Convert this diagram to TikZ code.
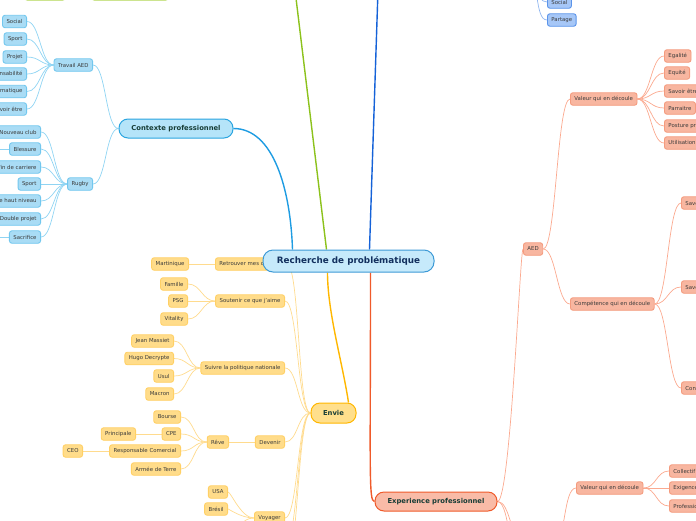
\documentclass[tikz,border=0pt]{standalone}
\usepackage{fontspec}
\setmainfont{DejaVu Sans}
\usetikzlibrary{positioning,backgrounds}
\definecolor{mapRootFill}{HTML}{C6EAFB}
\definecolor{mapRootLine}{HTML}{3D9AD6}
\definecolor{mapRootText}{HTML}{12305E}
\definecolor{mapMainText}{HTML}{173D36}
\definecolor{mapLeafText}{HTML}{3B3B3B}
\definecolor{ctxFill}{HTML}{B5E4F9}
\definecolor{ctxLine}{HTML}{2AA5E0}
\definecolor{ctxLeafFill}{HTML}{A9DCF5}
\definecolor{ctxLeafLine}{HTML}{72C7EE}
\definecolor{ctxLink}{HTML}{8FD4F3}
\definecolor{envFill}{HTML}{FFDF8C}
\definecolor{envLine}{HTML}{FFB700}
\definecolor{envLeafFill}{HTML}{FFDC8A}
\definecolor{envLeafLine}{HTML}{FFD065}
\definecolor{envLink}{HTML}{FFDB8E}
\definecolor{expFill}{HTML}{F9BBA7}
\definecolor{expLine}{HTML}{EF5A2A}
\definecolor{expLeafFill}{HTML}{F8B6A0}
\definecolor{expLeafLine}{HTML}{F49B7E}
\definecolor{expLink}{HTML}{FBA98F}
\definecolor{topFill}{HTML}{A6C7F7}
\definecolor{topLine}{HTML}{5B94EA}
\definecolor{topLink}{HTML}{8FB5F0}
\definecolor{greenFill}{HTML}{D6ED9E}
\definecolor{greenLine}{HTML}{B9DA66}
\definecolor{branchGreen}{HTML}{8CC21C}
\definecolor{branchBlue}{HTML}{1562D8}
\definecolor{branchCtx}{HTML}{1E9CE2}

\begin{document}
\begin{tikzpicture}[x=1pt,y=-1pt,
  leaf/.style={draw, rounded corners=2.5pt, line width=0.9pt, minimum height=12.5pt,
    inner xsep=4pt, inner ysep=0pt, text=mapLeafText, font=\fontsize{5.4}{6}\selectfont},
  ctxleaf/.style={leaf, fill=ctxLeafFill, draw=ctxLeafLine},
  envleaf/.style={leaf, fill=envLeafFill, draw=envLeafLine},
  expleaf/.style={leaf, fill=expLeafFill, draw=expLeafLine},
  topleaf/.style={leaf, fill=topFill, draw=topLine},
  greenleaf/.style={leaf, fill=greenFill, draw=greenLine},
  mainbox/.style={draw, rounded corners=9pt, line width=1pt, inner sep=0pt,
    text=mapMainText, font=\fontsize{6.8}{8}\selectfont\bfseries},
  linkL/.style={to path={.. controls +(-#1,0) and +(#1,0) .. (\tikztotarget)}},
  linkL/.default=13,
  linkR/.style={to path={.. controls +(#1,0) and +(-#1,0) .. (\tikztotarget)}},
  linkR/.default=13,
  ctxlink/.style={draw=ctxLink, line width=0.7pt},
  envlink/.style={draw=envLink, line width=0.7pt},
  explink/.style={draw=expLink, line width=0.7pt},
  toplink/.style={draw=topLink, line width=0.7pt},
  branch/.style={line width=1.4pt}]
  \useasboundingbox (0,0) rectangle (696,520);

  \node[greenleaf, minimum width=40pt] (greenA) at (45,-6) {};
  \node[greenleaf, minimum width=76pt] (greenB) at (130,-6) {};

  \node[mainbox, fill=ctxFill, draw=ctxLine, minimum width=114pt, minimum height=19pt] (contexte) at (176,128.5) {Contexte professionnel};
  \node[ctxleaf, anchor=east] (travail) at (93,65) {Travail AED};
  \node[ctxleaf, anchor=east] (aedSocial) at (27,21.5) {Social};
  \node[ctxleaf, anchor=east] (aedSport) at (27,39) {Sport};
  \node[ctxleaf, anchor=east] (aedProjet) at (27,57) {Projet};
  \node[ctxleaf, anchor=east] (aedResp) at (27,74) {Responsabilité};
  \node[ctxleaf, anchor=east] (aedInfo) at (27,91.5) {Informatique};
  \node[ctxleaf, anchor=east] (aedSavoir) at (27,109) {Savoir être};
  \node[ctxleaf, anchor=east] (rugby) at (93,184) {Rugby};
  \node[ctxleaf, anchor=east] (rugClub) at (41,132) {Nouveau club};
  \node[ctxleaf, anchor=east] (rugBlessure) at (41,149) {Blessure};
  \node[ctxleaf, anchor=east] (rugFin) at (41,167) {Fin de carriere};
  \node[ctxleaf, anchor=east] (rugSport) at (41,184) {Sport};
  \node[ctxleaf, anchor=east] (rugNiveau) at (41,201) {Sport de haut niveau};
  \node[ctxleaf, anchor=east] (rugDouble) at (41,219) {Double projet};
  \node[ctxleaf, anchor=east] (rugSacrifice) at (41,237) {Sacrifice};
  \coordinate (blessureNext) at (-30,149);
  \coordinate (sacrificeNext) at (-30,237);

  \node[mainbox, fill=envFill, draw=envLine, minimum width=45pt, minimum height=20pt] (envie) at (333.5,413) {Envie};
  \node[envleaf, anchor=west] (retrouver) at (215,264) {Retrouver mes origines};
  \node[envleaf, anchor=east] (martinique) at (189,264) {Martinique};
  \node[envleaf, anchor=east] (soutenir) at (285,301) {Soutenir ce que j'aime};
  \node[envleaf, anchor=east] (famille) at (188,284) {Famille};
  \node[envleaf, anchor=east] (psg) at (188,301) {PSG};
  \node[envleaf, anchor=east] (vitality) at (188,319) {Vitality};
  \node[envleaf, anchor=east] (politique) at (285,368) {Suivre la politique nationale};
  \node[envleaf, anchor=east] (massiet) at (174,341) {Jean Massiet};
  \node[envleaf, anchor=east] (hugo) at (174,358.5) {Hugo Decrypte};
  \node[envleaf, anchor=east] (usul) at (174,376) {Usul};
  \node[envleaf, anchor=east] (macron) at (174,394) {Macron};
  \node[envleaf, anchor=east] (devenir) at (285,442) {Devenir};
  \node[envleaf, anchor=east] (reve) at (229,442) {Rêve};
  \node[envleaf, anchor=east] (bourse) at (181,417) {Bourse};
  \node[envleaf, anchor=east] (cpe) at (181,434) {CPE};
  \node[envleaf, anchor=east] (principale) at (136,434) {Principale};
  \node[envleaf, anchor=east] (commercial) at (181,451) {Responsable Comercial};
  \node[envleaf, anchor=east] (ceo) at (83,451) {CEO};
  \node[envleaf, anchor=east] (armee) at (181,469) {Armée de Terre};
  \node[envleaf, anchor=east] (voyager) at (285,518) {Voyager};
  \node[envleaf, anchor=east] (usa) at (228,492) {USA};
  \node[envleaf, anchor=east] (bresil) at (228,509) {Brésil};
  \coordinate (voyagerNext) at (228,530);
  \coordinate (envieNextA) at (285,545);
  \coordinate (envieNextB) at (285,570);

  \node[mainbox, fill=expFill, draw=expLine, minimum width=122pt, minimum height=19pt] (experience) at (436,501.5) {Experience professionnel};
  \node[expleaf, anchor=west] (aed) at (523,249) {AED};
  \node[expleaf, anchor=west] (valeurA) at (570,99) {Valeur qui en découle};
  \node[expleaf, anchor=west] (egalite) at (664,56) {Egalité};
  \node[expleaf, anchor=west] (equite) at (664,73) {Equité};
  \node[expleaf, anchor=west] (savoirEtre) at (664,91) {Savoir être};
  \node[expleaf, anchor=west] (parraitre) at (664,108) {Parraitre};
  \node[expleaf, anchor=west] (posture) at (664,126) {Posture professionnelle};
  \node[expleaf, anchor=west] (utilisation) at (664,143) {Utilisation du numérique};
  \node[expleaf, anchor=west] (competence) at (570,304) {Compétence qui en découle};
  \node[expleaf, anchor=west] (savoirFaire) at (681,203) {Savoir-faire};
  \node[expleaf, anchor=west] (savoirEtreB) at (681,287) {Savoir être};
  \node[expleaf, anchor=west] (connaissance) at (681,388) {Connaissances};
  \node[expleaf, anchor=west] (valeurB) at (576,488) {Valeur qui en découle};
  \node[expleaf, anchor=west] (collectif) at (669,471) {Collectif};
  \node[expleaf, anchor=west] (exigence) at (669,488) {Exigence};
  \node[expleaf, anchor=west] (profession) at (669,506) {Professionnalisme};
  \coordinate (expNextA) at (523,540);
  \coordinate (expNextB) at (523,575);
  \coordinate (valeurBParent) at (553,545);

  \node[topleaf, anchor=west] (topSocial) at (547,2) {Social};
  \node[topleaf, anchor=west] (partage) at (547,20) {Partage};
  \coordinate (topParent) at (527,-25);

  \node[draw=mapRootLine, fill=mapRootFill, line width=1pt, rounded corners=10pt,
    minimum width=171pt, minimum height=22pt, inner sep=0pt, text=mapRootText,
    font=\fontsize{8.8}{10}\selectfont\bfseries] (root) at (348.5,261) {Recherche de problématique};
  \coordinate (rootCtx) at ([xshift=30pt]root.north west);
  \coordinate (rootGreen) at ([xshift=64pt]root.north west);
  \coordinate (rootBlue) at ([xshift=107pt]root.north west);
  \coordinate (rootEnvie) at ([xshift=65pt]root.south west);
  \coordinate (rootExp) at ([xshift=108pt]root.south west);
  \coordinate (greenTop) at (295,-10);
  \coordinate (blueTop) at (378,-10);
  \coordinate (envieTop) at ([xshift=15pt]envie.north);

  \begin{scope}[on background layer]
    \draw[branch, branchGreen] (rootGreen) -- (greenTop);
    \draw[branch, branchBlue] (rootBlue) -- (blueTop);
    \draw[branch, branchCtx] (contexte.east) .. controls +(40,0) and +(-2,-60) .. (rootCtx);
    \draw[branch, envLine] (rootEnvie) .. controls +(0,40) and +(-6,-40) .. (envieTop);
    \draw[branch, expLine] (rootExp) .. controls +(0,200) and +(-6,0) .. (experience.west);

    \draw[ctxlink] (contexte.west) to[linkL] (travail.east) (contexte.west) to[linkL] (rugby.east);
    \foreach \leafname in {aedSocial,aedSport,aedProjet,aedResp,aedInfo,aedSavoir}
      \draw[ctxlink] (travail.west) to[linkL] (\leafname.east);
    \foreach \leafname in {rugClub,rugBlessure,rugFin,rugSport,rugNiveau,rugDouble,rugSacrifice}
      \draw[ctxlink] (rugby.west) to[linkL] (\leafname.east);
    \draw[ctxlink] (rugBlessure.west) -- (blessureNext) (rugSacrifice.west) -- (sacrificeNext);

    \foreach \leafname in {retrouver,soutenir,politique,devenir,voyager,envieNextA,envieNextB}
      \draw[envlink] (envie.west) to[linkL] (\leafname.east);
    \draw[envlink] (retrouver.west) -- (martinique.east);
    \foreach \leafname in {famille,psg,vitality}
      \draw[envlink] (soutenir.west) to[linkL] (\leafname.east);
    \foreach \leafname in {massiet,hugo,usul,macron}
      \draw[envlink] (politique.west) to[linkL] (\leafname.east);
    \draw[envlink] (devenir.west) -- (reve.east);
    \foreach \leafname in {bourse,cpe,commercial,armee}
      \draw[envlink] (reve.west) to[linkL] (\leafname.east);
    \draw[envlink] (cpe.west) -- (principale.east) (commercial.west) -- (ceo.east);
    \foreach \leafname in {usa,bresil,voyagerNext}
      \draw[envlink] (voyager.west) to[linkL] (\leafname);

    \foreach \leafname in {aed,expNextA,expNextB}
      \draw[explink] (experience.east) to[linkR] (\leafname);
    \draw[explink] (aed.east) to[linkR] (valeurA.west) (aed.east) to[linkR] (competence.west);
    \foreach \leafname in {egalite,equite,savoirEtre,parraitre,posture,utilisation}
      \draw[explink] (valeurA.east) to[linkR] (\leafname.west);
    \foreach \leafname in {savoirFaire,savoirEtreB,connaissance}
      \draw[explink] (competence.east) to[linkR] (\leafname.west);
    \draw[explink] (valeurBParent) to[linkR] (valeurB.west);
    \foreach \leafname in {collectif,exigence,profession}
      \draw[explink] (valeurB.east) to[linkR] (\leafname.west);

    \draw[toplink] (topParent) to[linkR] (topSocial.west) (topParent) to[linkR] (partage.west);
  \end{scope}
\end{tikzpicture}
\end{document}
